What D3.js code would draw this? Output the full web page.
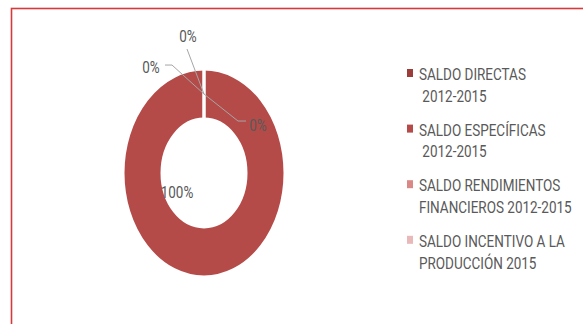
<!DOCTYPE html>
<html>
<head>
<meta charset="utf-8">
<script src="https://cdn.jsdelivr.net/npm/d3@7"></script>
<style>
  html, body { margin: 0; padding: 0; background: #fff; }
  svg { display: block; }
  text { font-family: "Liberation Sans Narrow", "Arial Narrow", Roboto, sans-serif; white-space: pre; }
</style>
</head>
<body>
<svg id="chart" width="583" height="324"></svg>
<script>
// Fund balances, share of total (%)
const categories = [
  "SALDO DIRECTAS 2012-2015",
  "SALDO ESPECÍFICAS 2012-2015",
  "SALDO RENDIMIENTOS FINANCIEROS 2012-2015",
  "SALDO INCENTIVO A LA PRODUCCIÓN 2015"
];
const shares = [0, 100, 0, 0];
const legendLines = [
  ["SALDO DIRECTAS", " 2012-2015"],
  ["SALDO ESPECÍFICAS", " 2012-2015"],
  ["SALDO RENDIMIENTOS", "FINANCIEROS 2012-2015"],
  ["SALDO INCENTIVO A LA", "PRODUCCIÓN 2015"]
];
const colors = ["#9c3d3a", "#b54b48", "#d98886", "#e8b9b8"];

// Layout
const W = 583, H = 324;
const stretch = 1.284;           // vertical stretch of the whole drawing
const cx = 204, cy = 173;
const rOuter = 81, rInner = 42;
const fontSize = 13.5;

// Callout layout for the slices with a zero share (screen px from the ring anchor)
const callouts = {
  0: { path: [[0, 0], [34, 27], [42, 27]], text: [54, 31] },
  2: { path: [[0, 0], [-32, -29], [-39, -29]], text: [-53, -27] },
  3: { path: [[0, 0], [-17, -45]], text: [-16, -58] }
};
const bigLabelOffset = [-27, 19];

const svg = d3.select("#chart");
svg.append("rect").attr("width", W).attr("height", H).attr("fill", "#fff");

// Chart frame
svg.append("rect")
  .attr("x", 11.5).attr("y", 8.5)
  .attr("width", W + 20).attr("height", H + 20)
  .attr("fill", "none")
  .attr("stroke", "#d63a3a")
  .attr("stroke-width", 1.6);

// Donut
const pie = d3.pie().sort(null).value(d => d);
const arcs = pie(shares);
const arc = d3.arc().innerRadius(rInner).outerRadius(rOuter);

const donut = svg.append("g")
  .attr("transform", `translate(${cx},${cy}) scale(1,${stretch})`);

donut.selectAll("path")
  .data(arcs)
  .join("path")
  .attr("d", arc)
  .attr("fill", (d, i) => colors[i])
  .attr("stroke", "#fff")
  .attr("stroke-width", 3)
  .attr("vector-effect", "non-scaling-stroke");

// Data labels
const fmt = v => d3.format(".0f")(v) + "%";
const total = d3.sum(shares);
const labelG = svg.append("g");

arcs.forEach((d, i) => {
  const pct = 100 * d.data / total;
  const c = arc.centroid(d);
  const ax = cx + c[0], ay = cy + c[1] * stretch;
  let tx, ty;
  if (callouts[i]) {
    const co = callouts[i];
    labelG.append("path")
      .attr("d", d3.line()(co.path.map(p => [ax + p[0], ay + p[1]])))
      .attr("fill", "none")
      .attr("stroke", "#a6a6a6")
      .attr("stroke-width", 1);
    tx = ax + co.text[0]; ty = ay + co.text[1];
  } else {
    tx = cx + bigLabelOffset[0]; ty = cy + bigLabelOffset[1];
  }
  labelG.append("text")
    .attr("transform", `translate(${tx},${ty}) scale(1,${stretch})`)
    .attr("text-anchor", "middle")
    .attr("dy", "0.36em")
    .attr("font-size", fontSize)
    .attr("fill", "#595959")
    .text(fmt(pct));
});

// Legend
const legendX = 407, legendY0 = 80, legendStep = 55.6, lineStep = 21.7;
const legend = svg.append("g");
categories.forEach((name, i) => {
  const by = legendY0 + i * legendStep;
  legend.append("rect")
    .attr("x", legendX).attr("y", by - 11)
    .attr("width", 6).attr("height", 8)
    .attr("fill", colors[i]);
  legendLines[i].forEach((ln, j) => {
    legend.append("text")
      .attr("transform", `translate(${legendX + 12},${by + j * lineStep}) scale(1,${stretch})`)
      .attr("font-size", fontSize)
      .attr("fill", "#595959")
      .text(ln);
  });
});
</script>
</body>
</html>
